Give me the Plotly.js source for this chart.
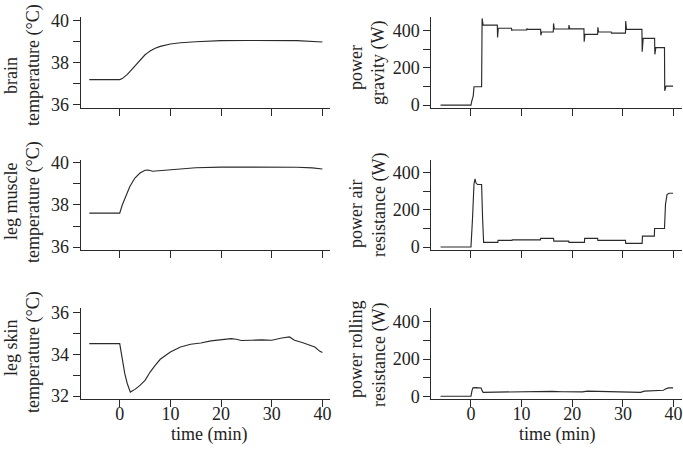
<!DOCTYPE html>
<html>
<head>
<meta charset="utf-8">
<script src="https://cdn.plot.ly/plotly-3.0.1.min.js"></script>
<style>html,body{margin:0;padding:0;background:#fff;}#chart{width:683px;height:451px;}</style>
</head>
<body>
<div id="chart"></div>
<script>
// time (min) and values
var brainT = [-6, 0, 0.5, 1, 1.5, 2, 3, 4, 5, 5.5, 6, 7, 8, 10, 12, 15, 20, 25, 30, 35, 40];
var brainV = [37.2, 37.2, 37.25, 37.34, 37.45, 37.58, 37.85, 38.13, 38.38, 38.47, 38.56, 38.69, 38.78, 38.89, 38.95, 39.0, 39.05, 39.06, 39.06, 39.05, 38.99];

var muscleT = [-6, 0, 0.5, 1, 1.5, 2, 3, 4, 5, 5.6, 6.5, 8, 10, 15, 20, 25, 30, 35, 38, 40];
var muscleV = [37.61, 37.61, 38.0, 38.32, 38.62, 38.88, 39.28, 39.52, 39.65, 39.66, 39.6, 39.63, 39.69, 39.77, 39.8, 39.8, 39.8, 39.79, 39.76, 39.71];

var skinT = [-6, 0, 0.5, 1, 1.5, 2.1, 3, 4, 5, 6, 7, 8, 10, 12, 14, 16, 18, 20, 22, 23, 24, 26, 28, 30, 31, 32, 33.5, 34.5, 36, 37.5, 38.5, 39.5, 40];
var skinV = [34.51, 34.51, 33.79, 33.07, 32.59, 32.19, 32.32, 32.51, 32.75, 33.15, 33.47, 33.76, 34.11, 34.35, 34.48, 34.54, 34.64, 34.7, 34.75, 34.72, 34.66, 34.67, 34.69, 34.67, 34.74, 34.78, 34.83, 34.67, 34.56, 34.43, 34.35, 34.14, 34.08];

var gravityT = [-6, 0, 0.15, 0.3, 0.45, 0.6, 2.1, 2.2, 2.4, 5.2, 5.25, 5.4, 8.0, 8.05, 8.15, 11.0, 11.05, 11.15, 13.75, 13.8, 13.95, 16.25, 16.3, 16.45, 19.3, 19.35, 19.5, 22.3, 22.35, 22.5, 25.0, 25.05, 25.2, 27.7, 27.75, 30.5, 30.55, 30.7, 33.75, 33.8, 34.0, 36.25, 36.3, 36.5, 38.2, 38.25, 38.5, 39.9];
var gravityV = [0, 0, 20, 36, 50, 99, 99, 466, 430, 430, 364, 413, 413, 400, 404, 404, 412, 407, 407, 375, 393, 393, 439, 409, 409, 430, 410, 410, 341, 380, 380, 418, 393, 393, 387, 387, 452, 407, 407, 287, 359, 359, 273, 309, 309, 77, 102, 102];

var airT = [-6, 0, 0.3, 0.6, 0.8, 1.0, 1.3, 2.1, 2.3, 2.5, 5.3, 5.35, 8.1, 8.15, 13.7, 13.75, 16.3, 16.35, 19.3, 19.35, 22.4, 22.45, 25.0, 25.05, 30.5, 30.55, 33.8, 33.85, 36.2, 36.25, 38.2, 38.4, 38.7, 39.1, 39.9];
var airV = [0, 0, 150, 340, 368, 345, 337, 337, 150, 25, 25, 36, 36, 39, 39, 47, 47, 32, 32, 25, 25, 47, 47, 36, 36, 20, 20, 59, 59, 100, 100, 230, 283, 290, 290];

var rollT = [-6, 0, 0.2, 0.4, 1.0, 2.0, 2.2, 2.4, 5, 8, 11, 14, 16, 18, 20, 22, 23, 26, 30, 30.8, 33.5, 34.2, 36, 38, 38.3, 39, 39.9];
var rollV = [0, 0, 30, 45, 46, 44, 30, 21, 22, 24, 25, 26, 26, 24, 22, 23, 27, 26, 25, 21, 21, 27, 28, 32, 38, 45, 45];

var xTicks = [0, 10, 20, 30, 40];
var xTickText = ['0', '10', '20', '30', '40'];
var tempTicksBrain = [36, 37, 38, 39, 40];
var tempTextBrain = ['36', '', '38', '', '40'];
var tempTicksSkin = [32, 33, 34, 35, 36];
var tempTextSkin = ['32', '', '34', '', '36'];
var powTicks = [0, 100, 200, 300, 400];
var powText = ['0', '', '200', '', '400'];

var leftTitles = [['brain', 'temperature (°C)'], ['leg muscle', 'temperature (°C)'], ['leg skin', 'temperature (°C)']];
var rightTitles = [['power', 'gravity (W)'], ['power air', 'resistance (W)'], ['power rolling', 'resistance (W)']];
var xTitle = 'time (min)';

var W = 683, H = 451;
var lineCol = '#2a2a2a';
var FONT = 'Liberation Serif, Times New Roman, serif';

var traces = [
  {x: brainT, y: brainV, xaxis: 'x', yaxis: 'y'},
  {x: gravityT, y: gravityV, xaxis: 'x2', yaxis: 'y2'},
  {x: muscleT, y: muscleV, xaxis: 'x3', yaxis: 'y3'},
  {x: airT, y: airV, xaxis: 'x4', yaxis: 'y4'},
  {x: skinT, y: skinV, xaxis: 'x5', yaxis: 'y5'},
  {x: rollT, y: rollV, xaxis: 'x6', yaxis: 'y6'}
].map(function(t){
  t.type = 'scatter'; t.mode = 'lines';
  t.line = {color: lineCol, width: 1.15};
  t.hoverinfo = 'skip';
  return t;
});

function px2x(p){ return p / W; }
function px2y(p){ return 1 - p / H; }

var base = {
  showline: true, linecolor: lineCol, linewidth: 1,
  ticks: 'outside', ticklen: 7, tickwidth: 1, tickcolor: lineCol,
  showgrid: false, zeroline: false, fixedrange: true,
  tickfont: {family: FONT, size: 18, color: '#222'}
};
function ax(extra){ return Object.assign({}, base, extra); }

var colL = [px2x(80.7), px2x(330)];
var colR = [px2x(431.3), px2x(681.7)];
var rows = [[px2y(108.3), px2y(17.3)], [px2y(250), px2y(159.5)], [px2y(399), px2y(308.3)]];
var xrL = [-7.7, 41.5], xrR = [-7.83, 41.6];

var layout = {
  width: W, height: H,
  margin: {l: 0, r: 0, t: 0, b: 0},
  paper_bgcolor: '#fff', plot_bgcolor: '#fff',
  showlegend: false,
  font: {family: FONT, size: 18, color: '#222'},
  xaxis:  ax({domain: colL, range: xrL, anchor: 'y',  tickvals: xTicks, ticktext: xTickText, showticklabels: false}),
  yaxis:  ax({domain: rows[0], range: [35.84, 40.16], anchor: 'x', tickvals: tempTicksBrain, ticktext: tempTextBrain}),
  xaxis2: ax({domain: colR, range: xrR, anchor: 'y2', tickvals: xTicks, ticktext: xTickText, showticklabels: false}),
  yaxis2: ax({domain: rows[0], range: [-17, 472], anchor: 'x2', tickvals: powTicks, ticktext: powText}),
  xaxis3: ax({domain: colL, range: xrL, anchor: 'y3', tickvals: xTicks, ticktext: xTickText, showticklabels: false}),
  yaxis3: ax({domain: rows[1], range: [35.86, 40.16], anchor: 'x3', tickvals: tempTicksBrain, ticktext: tempTextBrain}),
  xaxis4: ax({domain: colR, range: xrR, anchor: 'y4', tickvals: xTicks, ticktext: xTickText, showticklabels: false}),
  yaxis4: ax({domain: rows[1], range: [-16, 472], anchor: 'x4', tickvals: powTicks, ticktext: powText}),
  xaxis5: ax({domain: colL, range: xrL, anchor: 'y5', tickvals: xTicks, ticktext: xTickText, ticklabelstandoff: -9}),
  yaxis5: ax({domain: rows[2], range: [31.86, 36.2], anchor: 'x5', tickvals: tempTicksSkin, ticktext: tempTextSkin}),
  xaxis6: ax({domain: colR, range: xrR, anchor: 'y6', tickvals: xTicks, ticktext: xTickText, ticklabelstandoff: -9}),
  yaxis6: ax({domain: rows[2], range: [-15, 473], anchor: 'x6', tickvals: powTicks, ticktext: powText}),
  annotations: []
};

var leftPos = [[11, 76, 33, 65], [11, 202, 33, 202], [11, 348, 33, 352]];
var rightPos = [[356, 68, 379, 63], [356, 214, 379, 205], [356, 350, 379, 355]];
function addTitle(txt, xp, yp){
  layout.annotations.push({text: txt, xref: 'paper', yref: 'paper', x: px2x(xp), y: px2y(yp),
    xanchor: 'center', yanchor: 'middle', textangle: -90, showarrow: false,
    font: {family: FONT, size: 18, color: '#222'}});
}
for (var i = 0; i < 3; i++) {
  addTitle(leftTitles[i][0], leftPos[i][0], leftPos[i][1]);
  addTitle(leftTitles[i][1], leftPos[i][2], leftPos[i][3]);
  addTitle(rightTitles[i][0], rightPos[i][0], rightPos[i][1]);
  addTitle(rightTitles[i][1], rightPos[i][2], rightPos[i][3]);
}
[209, 556.7].forEach(function(xp){
  layout.annotations.push({text: xTitle, xref: 'paper', yref: 'paper', x: px2x(xp), y: px2y(434),
    xanchor: 'center', yanchor: 'middle', showarrow: false,
    font: {family: FONT, size: 18, color: '#222'}});
});

Plotly.newPlot('chart', traces, layout, {displayModeBar: false, staticPlot: true});
</script>
</body>
</html>
